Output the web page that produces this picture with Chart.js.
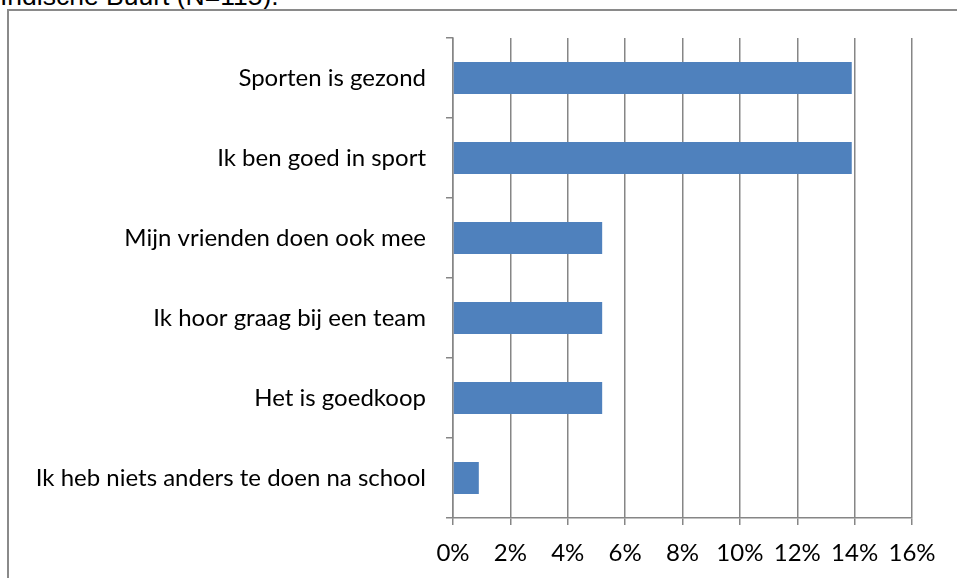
<!DOCTYPE html>
<html>
<head>
<meta charset="utf-8">
<script src="https://cdn.jsdelivr.net/npm/chart.js@4"></script>
<style>
  html, body { margin: 0; padding: 0; background: #fff; overflow: hidden; }
  body { width: 957px; height: 578px; position: relative; }
  .caption {
    position: absolute; left: 0; top: -19px;
    font-family: "Liberation Sans", Arial, sans-serif; font-size: 26.5px;
    line-height: 1.15; color: #000; white-space: nowrap;
  }
  .frame {
    position: absolute; left: 7px; top: 9px; width: 960px; height: 600px;
    border-left: 2px solid #8a8a8a; border-top: 2px solid #8a8a8a;
  }
  .chart { position: absolute; left: 0; top: 0; width: 957px; height: 578px; }
</style>
</head>
<body>
<div class="caption">Indische Buurt (N=115).</div>
<div class="frame"></div>
<div class="chart"><canvas id="myChart" width="957" height="578"></canvas></div>
<script>
const categories = [
  "Sporten is gezond",
  "Ik ben goed in sport",
  "Mijn vrienden doen ook mee",
  "Ik hoor graag bij een team",
  "Het is goedkoop",
  "Ik heb niets anders te doen na school",
];
const percentages = [13.9, 13.9, 5.2, 5.2, 5.2, 0.9];
const xTicks = [0, 2, 4, 6, 8, 10, 12, 14, 16];

const axisGray = "#868686";
const labelFont = { family: "Lato, 'Open Sans', sans-serif", size: 24 };

const ctx = document.getElementById("myChart");

new Chart(ctx, {
  type: "bar",
  data: {
    labels: categories,
    datasets: [
      {
        data: percentages,
        backgroundColor: "#4f81bd",
        borderWidth: 0,
        barPercentage: 0.4,
        categoryPercentage: 1,
      },
    ],
  },
  options: {
    indexAxis: "y",
    responsive: false,
    animation: false,
    layout: {
      padding: { top: 38, right: 45, left: 0, bottom: 0 },
    },
    plugins: {
      legend: { display: false },
      tooltip: { enabled: false },
    },
    scales: {
      x: {
        min: xTicks[0],
        max: xTicks[xTicks.length - 1],
        afterFit: (scale) => {
          scale.height = 60;
        },
        afterBuildTicks: (scale) => {
          scale.ticks = xTicks.map((v) => ({ value: v }));
        },
        grid: {
          color: axisGray,
          lineWidth: 1.5,
          tickLength: 7,
        },
        border: { color: axisGray, width: 1.5 },
        ticks: {
          color: "#000",
          font: labelFont,
          padding: 14,
          maxRotation: 0,
          callback: (v) => v + "%",
        },
      },
      y: {
        afterFit: (scale) => {
          scale.width = 453;
        },
        grid: {
          offset: true,
          drawOnChartArea: false,
          color: axisGray,
          lineWidth: 1.5,
          tickLength: 7,
        },
        border: { color: axisGray, width: 1.5 },
        ticks: {
          color: "#000",
          font: labelFont,
          padding: 20,
        },
      },
    },
  },
});
</script>
</body>
</html>
